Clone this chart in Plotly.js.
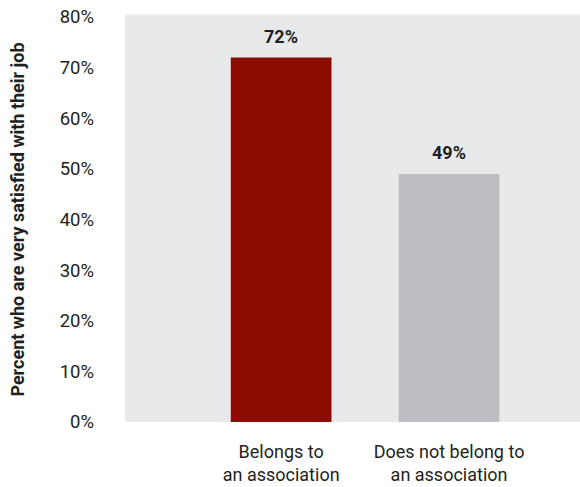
<!DOCTYPE html>
<html><head><meta charset="utf-8">
<script src="https://cdn.plot.ly/plotly-3.0.1.min.js"></script>
<style>html,body{margin:0;padding:0;background:#fff}</style>
</head><body>
<div id="chart" style="width:580px;height:487px"></div>
<script>
const categories = ["Belongs to<br>an association", "Does not belong to<br>an association"];
const values = [72, 49];
const valueLabels = ["72%", "49%"];
const barColors = ["#8b0c02", "#bdbec1"];
const yTickVals = [0,10,20,30,40,50,60,70,80];
const yTickText = ["0%","10%","20%","30%","40%","50%","60%","70%","80%"];

const FONT = "Liberation Sans Narrow, Roboto, Arial, sans-serif";
const xs = categories.map((c,i)=>i);

const data = [{
  type: "bar",
  x: xs,
  y: values,
  width: 0.6,
  marker: {color: barColors},
  hoverinfo: "skip"
}];

const layout = {
  width: 580, height: 487,
  margin: {l: 125, r: 0, t: 17, b: 65},
  paper_bgcolor: "#ffffff",
  plot_bgcolor: "#e8e9eb",
  showlegend: false,
  font: {family: FONT, size: 18, color: "#231f20"},
  xaxis: {
    range: [-0.93, 1.78],
    tickvals: xs,
    ticktext: categories,
    showgrid: false, zeroline: false, showline: false,
    ticks: "", ticklabelstandoff: 17,
    tickfont: {family: FONT, size: 18, color: "#231f20"},
    fixedrange: true
  },
  yaxis: {
    range: [0, 80],
    tickvals: yTickVals,
    ticktext: yTickText,
    showgrid: false, zeroline: false, showline: false,
    ticks: "", ticklabelstandoff: 30,
    tickfont: {family: FONT, size: 18.5, color: "#231f20"},
    title: {text: "Percent who are very satisfied with their job",
            font: {family: FONT, size: 18, color: "#231f20", weight: "bold"},
            standoff: 30},
    fixedrange: true
  },
  shapes: [{
    type: "rect", xref: "paper", yref: "paper",
    x0: 0, x1: 1, y0: 1, y1: 1.006,
    fillcolor: "#e8e9eb", line: {width: 0}, layer: "below"
  }],
  annotations: xs.map((x,i)=>({
    x: x, y: values[i], xref: "x", yref: "y",
    text: "<b>" + valueLabels[i] + "</b>",
    showarrow: false, yanchor: "bottom", yshift: 9,
    font: {family: FONT, size: 18, color: "#231f20"}
  }))
};

Plotly.newPlot("chart", data, layout, {displayModeBar: false, staticPlot: true});
</script>
</body></html>
